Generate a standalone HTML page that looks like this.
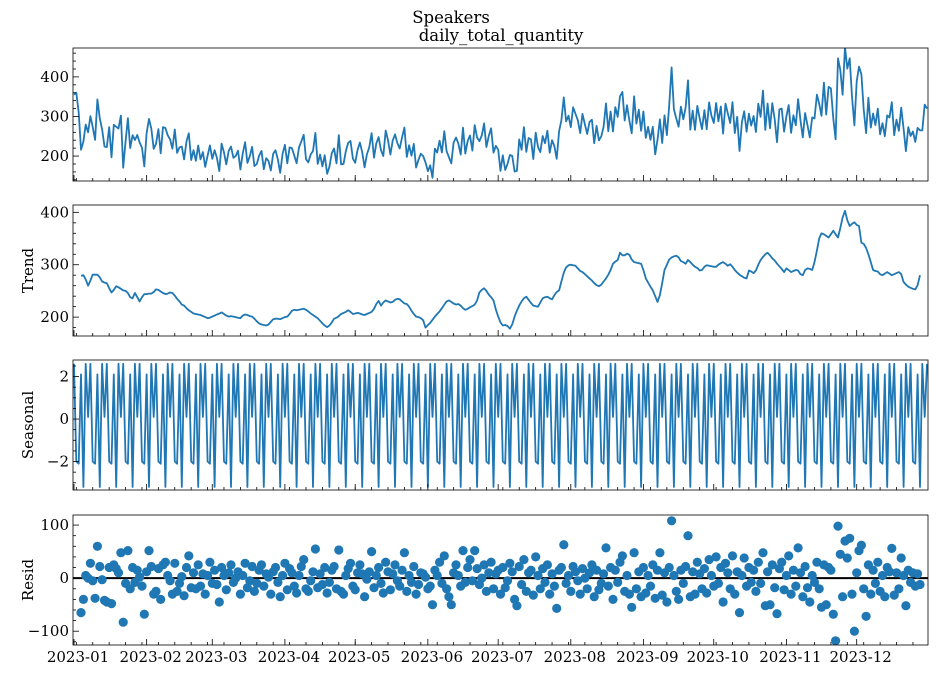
<!DOCTYPE html>
<html><head><meta charset="utf-8">
<style>
html,body{margin:0;padding:0;background:#fff;}
svg{display:block;font-family:"DejaVu Serif","Liberation Serif",serif;}
</style></head>
<body>
<svg id="chart" width="937" height="675" viewBox="0 0 937 675" xmlns="http://www.w3.org/2000/svg">
<text x="451" y="23" font-size="16.5" text-anchor="middle">Speakers</text>
<text x="501" y="41" font-size="16.5" text-anchor="middle">daily_total_quantity</text>
</svg>
<script>
const monthLabels = ["2023-01","2023-02","2023-03","2023-04","2023-05","2023-06","2023-07","2023-08","2023-09","2023-10","2023-11","2023-12"];
const monthStartDays = [0,31,59,90,120,151,181,212,243,273,304,334];
const seasonalPattern = [2.6,-2.0,-2.1,2.1,-3.2,2.6,0.1];
const obsHead = [355,360,310];
const obsTail = [265,330,320];
const trendStartDay = 3;
const trend = [
279,280,272,260,270,281,281,
281,276,268,266,265,255,247,252,259,257,
254,251,250,246,238,236,246,238,230,238,
244,244,245,245,248,253,252,249,246,244,
245,247,246,241,235,230,224,222,217,213,
210,207,206,205,204,202,200,198,199,201,
203,205,207,209,206,203,201,202,201,200,
199,198,203,205,204,202,201,197,192,188,
186,185,184,186,191,196,197,197,196,198,
200,201,206,212,214,213,214,215,216,214,
211,207,204,201,198,193,188,184,181,184,
190,197,199,202,206,208,210,213,210,206,
207,208,207,205,204,206,208,210,216,225,
231,222,228,232,230,228,229,233,235,234,
230,226,225,220,212,206,201,200,198,194,
180,185,189,195,201,206,211,217,224,230,
232,229,226,224,225,222,217,214,216,219,
221,224,232,247,252,255,250,243,238,232,
215,201,190,184,185,183,178,186,201,212,
222,230,236,239,233,227,222,221,220,228,
236,238,239,236,234,242,248,251,268,285,
295,299,300,299,298,293,288,286,282,278,
274,270,265,261,259,262,268,274,281,290,
302,306,309,323,318,318,321,319,310,305,
304,303,302,290,274,266,258,251,240,229,
242,265,290,300,310,314,316,317,314,307,
305,302,309,305,300,296,294,289,290,296,
299,298,297,296,296,300,303,305,302,298,
301,296,290,285,281,278,275,274,289,287,
284,289,300,309,315,320,323,318,312,308,
302,297,292,286,293,290,286,288,290,289,
282,280,290,293,292,290,305,327,350,360,
358,355,352,358,365,358,352,370,390,403,
385,374,378,381,376,374,342,340,332,320,
305,290,288,287,282,280,283,286,283,280,
282,284,286,282,267,262,258,256,254,253,
261,280];
const resid = [
-65,-40,5,0,28,-5,-38,
60,22,-3,-42,-45,20,-48,25,18,10,
48,-83,-10,52,-20,20,-8,15,2,-15,
-68,12,52,22,-30,-25,18,-40,25,30,
5,-5,-30,28,-25,-10,3,-33,20,42,
-18,10,-20,25,-15,8,-30,5,30,-10,
15,-12,-45,20,5,-22,10,25,-8,0,
12,-30,5,28,-18,-5,22,-25,-10,15,
25,-15,8,2,-30,12,20,-8,-35,5,
28,-22,18,10,-15,-28,5,22,35,-20,
-25,-5,12,55,-18,8,-12,20,-28,-8,
15,22,-20,53,-25,-30,5,18,28,-15,
-22,10,25,8,-35,-2,12,50,-18,5,
20,-10,-28,30,12,-22,8,25,-5,-15,
15,48,-25,5,-8,22,-30,-12,10,8,
2,-20,-15,-50,15,5,30,-10,42,-20,
-35,-50,10,25,5,-15,52,-8,20,35,
-5,52,18,-12,0,25,-25,10,30,-20,
8,15,-30,20,-18,-5,28,12,-40,-52,
22,-12,35,-25,10,15,-32,40,5,-20,
18,-8,25,-30,8,-15,-57,15,20,63,
-10,5,-25,22,12,-5,-30,18,0,-20,
10,25,-35,15,-22,-10,8,57,-15,20,
-40,15,-8,30,42,-25,5,-30,-55,48,
-20,12,-35,20,-28,5,-15,25,-38,15,
48,-32,10,-45,20,108,5,-25,-40,15,
-10,22,80,-35,12,-30,30,8,-20,18,
-28,35,5,-15,40,-10,20,-45,28,10,
-20,42,-30,12,-65,5,38,-15,20,-8,
15,-25,30,-10,48,-52,12,-50,25,-18,
-67,18,30,-22,5,42,-30,15,-15,57,
10,-35,22,-18,-45,5,-8,30,-20,-55,
25,-50,20,15,-68,-118,98,45,-35,70,
38,75,-30,-100,10,52,62,-20,-72,25,
-30,15,-10,30,-25,5,-35,20,12,56,
-32,10,-20,38,5,-52,15,-8,10,-15,
8,-12];
const panel1Ticks = [200,300,400];
const panel2Ticks = [200,300,400];
const panel3Ticks = [-2,0,2];
const panel4Ticks = [-100,0,100];

const NS = "http://www.w3.org/2000/svg";
const svg = document.getElementById('chart');
const nDays = 365;
const X0 = 73, X1 = 928;
const xScale = d => X0 + 1 + d * (X1 - X0 - 2) / (nDays - 1);
const COLOR = "#1f77b4";

function mk(tag, attrs, parent) {
  const e = document.createElementNS(NS, tag);
  for (const k in attrs) e.setAttribute(k, attrs[k]);
  (parent || svg).appendChild(e);
  return e;
}

const seasonal = [];
for (let d = 0; d < nDays; d++) seasonal.push(seasonalPattern[d % 7]);
const observed = [];
for (let d = 0; d < nDays; d++) {
  if (d < trendStartDay) observed.push(obsHead[d]);
  else if (d >= trendStartDay + trend.length) observed.push(obsTail[d - trendStartDay - trend.length]);
  else { const i = d - trendStartDay; observed.push(trend[i] + seasonal[d] + resid[i]); }
}

const panels = [
  {name:'observed', top:48, bot:181, vTop:473, vBot:137, ticks:panel1Ticks, minor:20, label:''},
  {name:'trend', top:205, bot:336, vTop:414, vBot:164, ticks:panel2Ticks, minor:20, label:'Trend'},
  {name:'seasonal', top:360, bot:490, vTop:2.78, vBot:-3.34, ticks:panel3Ticks, minor:0.5, label:'Seasonal'},
  {name:'resid', top:515, bot:645, vTop:119, vBot:-126, ticks:panel4Ticks, minor:20, label:'Resid'}
];

panels.forEach((p, pi) => {
  const g = mk('g', {});
  
  
  const y = v => p.top + (p.vTop - v) * (p.bot - p.top) / (p.vTop - p.vBot);
  const clipId = 'clip' + pi;
  const cp = mk('clipPath', {id: clipId}, g);
  mk('rect', {x: X0, y: p.top, width: X1 - X0, height: p.bot - p.top}, cp);
  const plot = mk('g', {'clip-path': 'url(#' + clipId + ')'}, g);
  
  

  if (p.name === 'resid') {
    const zl = mk('line', {x1: X0, x2: X1, y1: y(0), y2: y(0), stroke: '#000', 'stroke-width': 2}, plot);
    
    
    resid.forEach((v, i) => {
      const c = mk('circle', {cx: xScale(i + trendStartDay).toFixed(1), cy: y(v).toFixed(1), r: 4.6, fill: COLOR}, plot);
      
      
    });
  } else {
    let arr, start;
    if (p.name === 'observed') { arr = observed; start = 0; }
    else if (p.name === 'trend') { arr = trend; start = trendStartDay; }
    else { arr = seasonal; start = 0; }
    const pts = arr.map((v, i) => xScale(i + start).toFixed(1) + ',' + y(v).toFixed(1)).join(' ');
    const pl = mk('polyline', {points: pts, fill: 'none', stroke: COLOR, 'stroke-width': 1.8, 'stroke-linejoin': 'round'}, plot);
    
    
  }

  const lo = Math.ceil(p.vBot / p.minor), hi = Math.floor(p.vTop / p.minor);
  for (let k = lo; k <= hi; k++) {
    const v = k * p.minor, yy = y(v);
    const isMajor = p.ticks.some(t => Math.abs(t - v) < 1e-6);
    mk('line', {x1: X0, x2: X0 + (isMajor ? 6 : 3), y1: yy, y2: yy, stroke: '#000', 'stroke-width': 0.8}, g);
  }
  p.ticks.forEach(t => {
    const tx = mk('text', {x: X0 - 4, y: y(t) + 5, 'font-size': 15, 'text-anchor': 'end'}, g);
    tx.textContent = String(t).replace('-', '\u2212');
    
    
  });
  for (let d = 1; d < nDays; d += 7) {
    mk('line', {x1: xScale(d), x2: xScale(d), y1: p.bot, y2: p.bot - 3, stroke: '#000', 'stroke-width': 0.8}, g);
  }
  monthStartDays.forEach((d, mi) => {
    const xx = xScale(d);
    mk('line', {x1: xx, x2: xx, y1: p.bot, y2: p.bot - 6, stroke: '#000', 'stroke-width': 0.8}, g);
    if (pi === 3) {
      const tx = mk('text', {x: xx + 4, y: p.bot + 17, 'font-size': 15, 'text-anchor': 'middle'}, g);
      tx.textContent = monthLabels[mi];
      
      
    }
  });
  const fr = mk('rect', {x: X0, y: p.top, width: X1 - X0, height: p.bot - p.top, fill: 'none', stroke: '#000', 'stroke-width': 0.8}, g);
  
  
  if (p.label) {
    const cy = (p.top + p.bot) / 2;
    const lt = mk('text', {x: 33, y: cy, 'font-size': 15, 'text-anchor': 'middle', transform: 'rotate(-90 33 ' + cy + ')'}, g);
    lt.textContent = p.label;
    
    
  }
});
</script>
</body></html>
